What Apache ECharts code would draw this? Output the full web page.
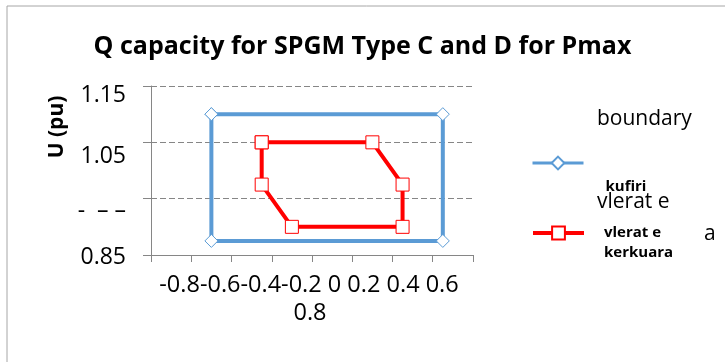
<!DOCTYPE html>
<html lang="en">
<head>
<meta charset="utf-8">
<title>Q capacity for SPGM Type C and D for Pmax</title>
<script src="https://cdn.jsdelivr.net/npm/echarts@6/dist/echarts.min.js"></script>
<style>html,body{margin:0;padding:0;background:#fff;}</style>
</head>
<body>
<div id="main" style="width:725px;height:362px;"></div>
<script type="text/javascript">
// tick labels as they show up in the picture
var xTicks = ['-0.8', '-0.6', '-0.4', '-0.2', '0', '0.2', '0.4', '0.6', '0.8'];
var yTicks = ['0.85', '-  – –', '1.05', '1.15'];

// kufiri (boundary)
var boundQ = [-0.5, 0.65, 0.65, -0.5, -0.5];
var boundU = [1.1, 1.1, 0.875, 0.875, 1.1];

// vlerat e kerkuara
var reqQ = [-0.25, 0.3, 0.45, 0.45, -0.1, -0.25, -0.25];
var reqU = [1.05, 1.05, 0.975, 0.9, 0.9, 0.975, 1.05];

var FONT = 'Open Sans';
var blue = '#5B9BD5', red = '#FF0000';

function pairs(xs, ys) {
    return xs.map(function (x, i) { return [x, ys[i]]; });
}

// excel wrapped the x labels into one centred block
var xLine1 = xTicks.slice(0, 4).join('') + ' ' + xTicks.slice(4, 8).join(' ');
var xLine2 = xTicks[8];

var myChart = echarts.init(document.getElementById('main'));

myChart.setOption({
    animation: false,
    title: {
        text: 'Q capacity for SPGM Type C and D for Pmax',
        left: 'center',
        top: 29,
        textStyle: { fontFamily: FONT, fontWeight: 'bold', fontSize: 25, color: '#000' }
    },
    grid: { left: 151, right: 252, top: 86, bottom: 107 },
    legend: [{
        data: ['kufiri'],
        left: 531, top: 127, padding: 0,
        itemWidth: 51, itemHeight: 16,
        lineStyle: { width: 3 },
        formatter: function (name) { return '\n\n' + name; },
        textStyle: { fontFamily: FONT, fontWeight: 'bold', fontSize: 15, color: '#000',
                     lineHeight: 24, padding: [0, 0, 0, 17] }
    }, {
        data: ['vlerat e kerkuara'],
        left: 531, top: 203, padding: 0,
        itemWidth: 51, itemHeight: 16,
        lineStyle: { width: 4 },
        formatter: function () { return '\nvlerat e\nkerkuara'; },
        textStyle: { fontFamily: FONT, fontWeight: 'bold', fontSize: 15, color: '#000',
                     lineHeight: 20, padding: [0, 0, 0, 15] }
    }],
    xAxis: {
        type: 'value',
        min: -0.8, max: 0.8, interval: 0.2,
        axisLine: { onZero: false, lineStyle: { color: '#868686' } },
        axisTick: { length: 7, lineStyle: { color: '#868686' } },
        axisLabel: { show: false },
        splitLine: { show: false }
    },
    yAxis: {
        type: 'value',
        min: 0.85, max: 1.15, interval: 0.1,
        axisLine: { show: true, onZero: false, lineStyle: { color: '#868686' } },
        axisTick: { show: true, length: 8, lineStyle: { color: '#868686' } },
        axisLabel: {
            margin: 25,
            fontFamily: FONT, fontSize: 23, color: '#000',
            formatter: function (v) {
                var i = Math.round((v - 0.85) / 0.1);
                return '{t' + i + '|' + yTicks[i] + '}';
            },
            rich: {
                t0: { fontFamily: FONT, fontSize: 23, padding: [4, 0, 0, 0] },
                t1: { fontFamily: FONT, fontSize: 23, padding: [26, 0, 0, 0] },
                t2: { fontFamily: FONT, fontSize: 23, padding: [28, 0, 0, 0] },
                t3: { fontFamily: FONT, fontSize: 23, padding: [18, 0, 0, 0] }
            }
        },
        splitLine: { show: true, lineStyle: { color: '#868686', type: [6, 3] } }
    },
    graphic: [
        { type: 'rect', shape: { x: 7, y: 6, width: 800, height: 400 },
          style: { fill: 'none', stroke: '#a6a6a6', lineWidth: 1 }, silent: true },
        { type: 'text', x: 57, y: 127, rotation: Math.PI / 2,
          style: { text: 'U (pu)', align: 'center', verticalAlign: 'middle',
                   font: 'bold 21px "Open Sans"', fill: '#000' } },
        { type: 'text', x: 309, y: 285,
          style: { text: xLine1, align: 'center', verticalAlign: 'middle',
                   font: '23.5px "Open Sans"', fill: '#000' } },
        { type: 'text', x: 310, y: 313,
          style: { text: xLine2, align: 'center', verticalAlign: 'middle',
                   font: '23.5px "Open Sans"', fill: '#000' } },
        { type: 'text', x: 597, y: 119,
          style: { text: 'boundary', align: 'left', verticalAlign: 'middle',
                   font: '21px "Open Sans"', fill: '#000' } },
        { type: 'text', x: 597, y: 202,
          style: { text: 'vlerat e', align: 'left', verticalAlign: 'middle',
                   font: '21px "Open Sans"', fill: '#000' } },
        { type: 'text', x: 704, y: 234,
          style: { text: 'a', align: 'left', verticalAlign: 'middle',
                   font: '21px "Open Sans"', fill: '#000' } }
    ],
    series: [{
        name: 'kufiri',
        type: 'line',
        data: pairs(boundQ, boundU),
        symbol: 'diamond', symbolSize: 13,
        lineStyle: { color: blue, width: 4 },
        itemStyle: { color: '#fff', borderColor: blue, borderWidth: 1 },
        z: 2
    }, {
        name: 'vlerat e kerkuara',
        type: 'line',
        data: pairs(reqQ, reqU),
        symbol: 'rect', symbolSize: 13,
        lineStyle: { color: red, width: 4 },
        itemStyle: { color: '#fff', borderColor: red, borderWidth: 1 },
        z: 3
    }]
});
</script>
</body>
</html>
